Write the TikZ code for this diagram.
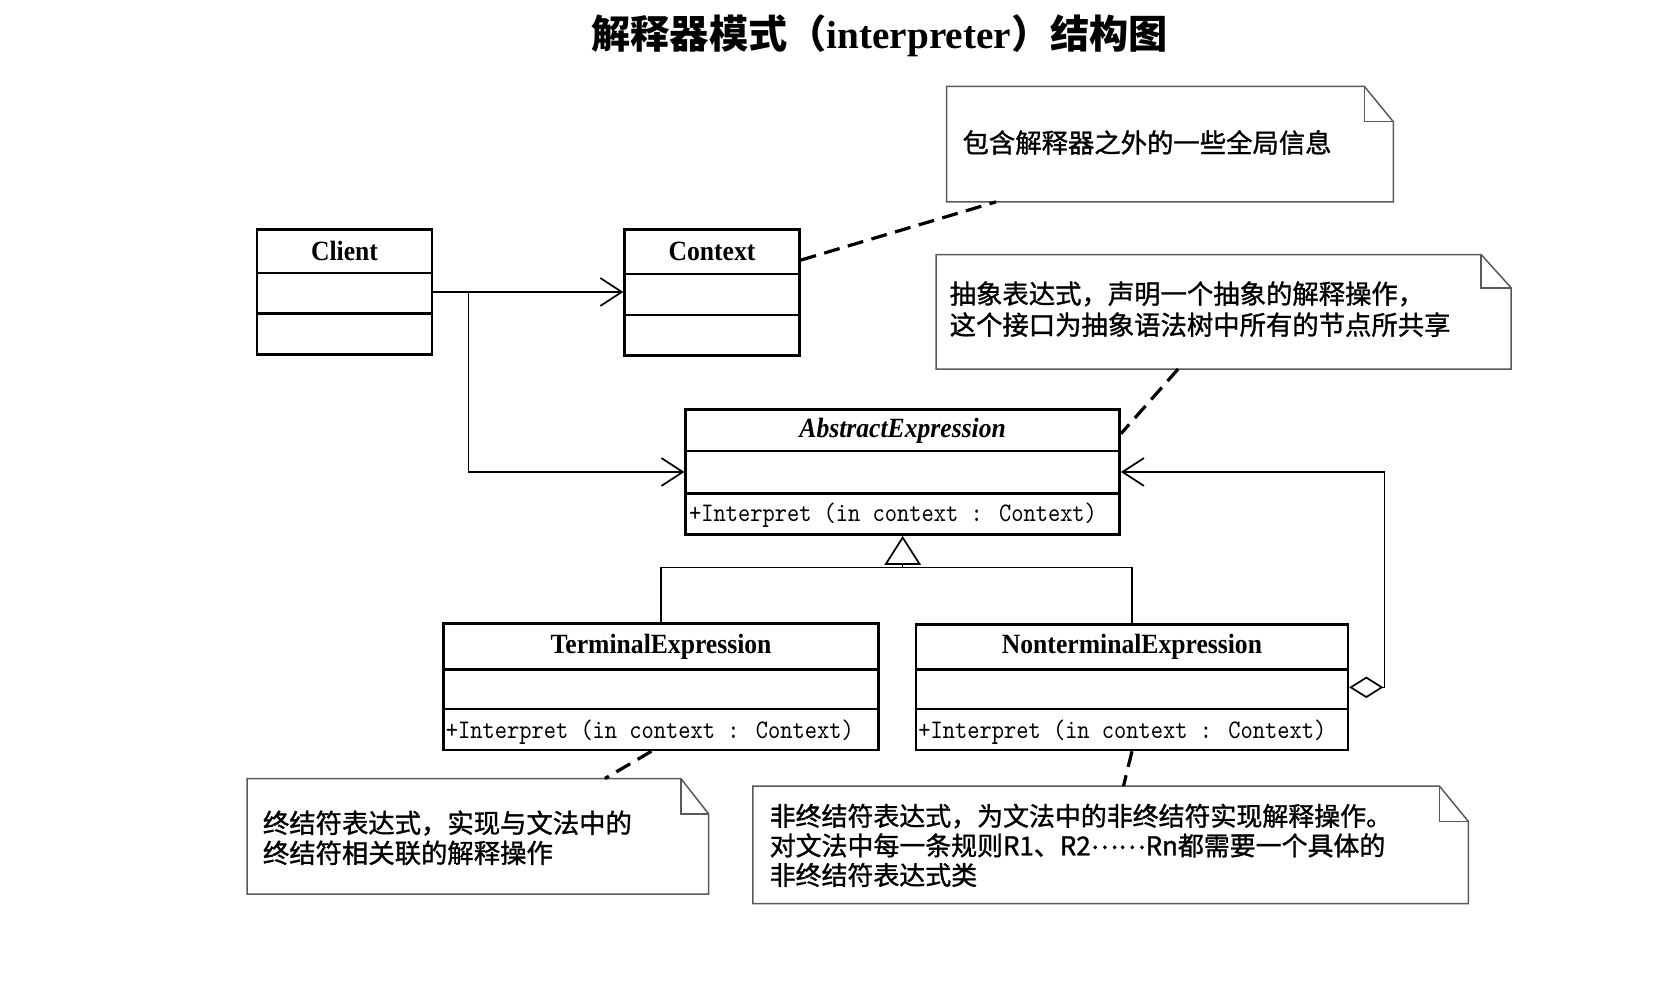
\documentclass[tikz,border=0pt]{standalone}
\usepackage{fontspec}
\setmainfont{Liberation Serif}
\newfontfamily\cjk{Noto Sans CJK SC}
\newfontfamily\cjknote{Noto Sans CJK SC}[FakeBold=1.2]
\newfontfamily\opfont{lmmono10-regular.otf}[FakeStretch=0.87]
\newfontfamily\clsfont{Liberation Serif}[FakeStretch=0.92]
\usetikzlibrary{arrows.meta,calc}
\tikzset{
  cls/.style={draw, line width=1.2pt, inner sep=0pt, fill=white},
  divider/.style={line width=1.2pt},
  clsname/.style={font=\clsfont\fontsize{13}{15}\selectfont\bfseries, inner sep=0pt},
  optext/.style={font=\opfont\fontsize{12.5}{14}\selectfont, anchor=west, inner sep=0pt},
  notetext/.style={font=\cjknote\fontsize{12.3}{14.5}\selectfont, anchor=west, align=left, inner sep=0pt},
  notebox/.style={inner sep=0pt},
  noteline/.style={line width=0.7pt, draw=black!65},
  assoc/.style={line width=0.7pt, -{Straight Barb[length=10pt,width=13pt,line width=0.8pt]}},
  anchorline/.style={line width=1.5pt, dash pattern=on 7.5pt off 4pt},
  gen/.style={line width=0.7pt},
  gentri/.style={line width=0.7pt, -{Triangle[open,length=13.5pt,width=17pt,line width=0.8pt]}},
  aggr/.style={line width=0.7pt, {Diamond[open,length=16pt,width=10pt,line width=0.8pt]}-{Straight Barb[length=10pt,width=13pt,line width=0.8pt]}},
}
\newcommand\foldnote[3]{%
  \draw[noteline] (#1.north west) -- ([xshift=-#2]#1.north east) -- ([yshift=-#3]#1.north east) -- (#1.south east) -- (#1.south west) -- cycle;
  \draw[noteline] ([xshift=-#2]#1.north east) -- ([xshift=-#2,yshift=-#3]#1.north east) -- ([yshift=-#3]#1.north east);}
\begin{document}
\begin{tikzpicture}[x=0.5pt,y=-0.5pt]
\useasboundingbox (0,0) rectangle (1568,918);
\fill[white] (0,0) rectangle (1568,918);

% title
\node[font=\fontsize{18.3}{20}\selectfont, inner sep=0pt] (title) at (821,33)
  {{\cjk\bfseries 解释器模式（}\textbf{interpreter}{\cjk\bfseries ）结构图}};

% classes
\node[cls, minimum width=81.5pt, minimum height=58.5pt] (Client) at (321.5,272.5) {};
\draw[divider] ($(Client.north west)+(0,42)$) -- ($(Client.north east)+(0,42)$);
\draw[divider] ($(Client.north west)+(0,80)$) -- ($(Client.north east)+(0,80)$);
\node[clsname] (ClientN) at ($(Client.north)+(0,21)$) {Client};

\node[cls, minimum width=81.5pt, minimum height=59pt] (Context) at (664.5,273) {};
\draw[divider] ($(Context.north west)+(0,43)$) -- ($(Context.north east)+(0,43)$);
\draw[divider] ($(Context.north west)+(0,81)$) -- ($(Context.north east)+(0,81)$);
\node[clsname] (ContextN) at ($(Context.north)+(0,22)$) {Context};

\node[cls, minimum width=202.5pt, minimum height=58.5pt] (Abs) at (842.5,440.5) {};
\draw[divider] ($(Abs.north west)+(0,40)$) -- ($(Abs.north east)+(0,40)$);
\draw[divider] ($(Abs.north west)+(0,80)$) -- ($(Abs.north east)+(0,80)$);
\node[clsname, font=\clsfont\fontsize{13}{15}\selectfont\bfseries\itshape] (AbsN) at ($(Abs.north)+(0,21)$) {AbstractExpression};
\node[optext] (AbsOp) at ($(Abs.south west)+(4,-19)$) {+Interpret (in context  : Context)};

\node[cls, minimum width=203pt, minimum height=59pt] (Term) at (617,641) {};
\draw[divider] ($(Term.north west)+(0,44)$) -- ($(Term.north east)+(0,44)$);
\draw[divider] ($(Term.north west)+(0,81)$) -- ($(Term.north east)+(0,81)$);
\node[clsname] (TermN) at ($(Term.north)+(0,23)$) {TerminalExpression};
\node[optext] (TermOp) at ($(Term.south west)+(3,-18)$) {+Interpret (in context  : Context)};

\node[cls, minimum width=201.5pt, minimum height=58.5pt] (Nonterm) at (1056.5,641.5) {};
\draw[divider] ($(Nonterm.north west)+(0,43)$) -- ($(Nonterm.north east)+(0,43)$);
\draw[divider] ($(Nonterm.north west)+(0,80)$) -- ($(Nonterm.north east)+(0,80)$);
\node[clsname] (NontermN) at ($(Nonterm.north)+(0,22)$) {NonterminalExpression};
\node[optext] (NontermOp) at ($(Nonterm.south west)+(3,-18)$) {+Interpret (in context  : Context)};

% notes
\node[notebox, minimum width=208pt, minimum height=53.5pt] (n1) at (1092,134.5) {};
\foldnote{n1}{13.5pt}{16.5pt}
\node[notetext] (t1) at (898,133) {包含解释器之外的一些全局信息};

\node[notebox, minimum width=268pt, minimum height=53pt] (n2) at (1142,291) {};
\foldnote{n2}{14pt}{15.5pt}
\node[notetext] (t2) at (886,288.5) {抽象表达式，声明一个抽象的解释操作，\\这个接口为抽象语法树中所有的节点所共享};

\node[notebox, minimum width=215pt, minimum height=53.5pt] (n3) at (446,780.5) {};
\foldnote{n3}{13pt}{16.5pt}
\node[notetext, font=\cjknote\fontsize{12.3}{14}\selectfont] (t3) at (245,782) {终结符表达式，实现与文法中的\\终结符相关联的解释操作};

\node[notebox, minimum width=333.5pt, minimum height=54.5pt] (n4) at (1036.5,788.5) {};
\foldnote{n4}{13.5pt}{16.5pt}
\node[notetext, font=\cjknote\fontsize{12.1}{13.8}\selectfont] (t4) at (718,789) {非终结符表达式，为文法中的非终结符实现解释操作。\\对文法中每一条规则R1、R2\raisebox{0.25em}{……}Rn都需要一个具体的\\非终结符表达式类};

% associations
\draw[assoc] (Client.east) -- (Client.east -| Context.west);
\coordinate (cb) at ($(Client.east)+(33,0)$);
\draw[assoc] (cb) |- (Abs.west);

% generalization
\coordinate (bus) at ($(Term.north)+(0,-51)$);
\draw[gen] (Term.north) -- (bus) -| (Nonterm.north);
\draw[gentri] (bus -| Abs.south) -- (Abs.south);

% aggregation
\draw[aggr] (Nonterm.east) -- ++(33,0) |- (Abs.east);

% note anchors
\draw[anchorline] ($(Context.north east)+(0,30)$) -- ($(n1.south west)+(46,0)$);
\draw[anchorline] ($(n2.south west)+(226,0)$) -- ($(Abs.north east)+(0,24)$);
\draw[anchorline] ($(Term.south)+(-9,0)$) -- ($(n3.north west)+(334,0)$);
\draw[anchorline] (Nonterm.south) -- ($(n4.north west)+(346,0)$);
\end{tikzpicture}
\end{document}
